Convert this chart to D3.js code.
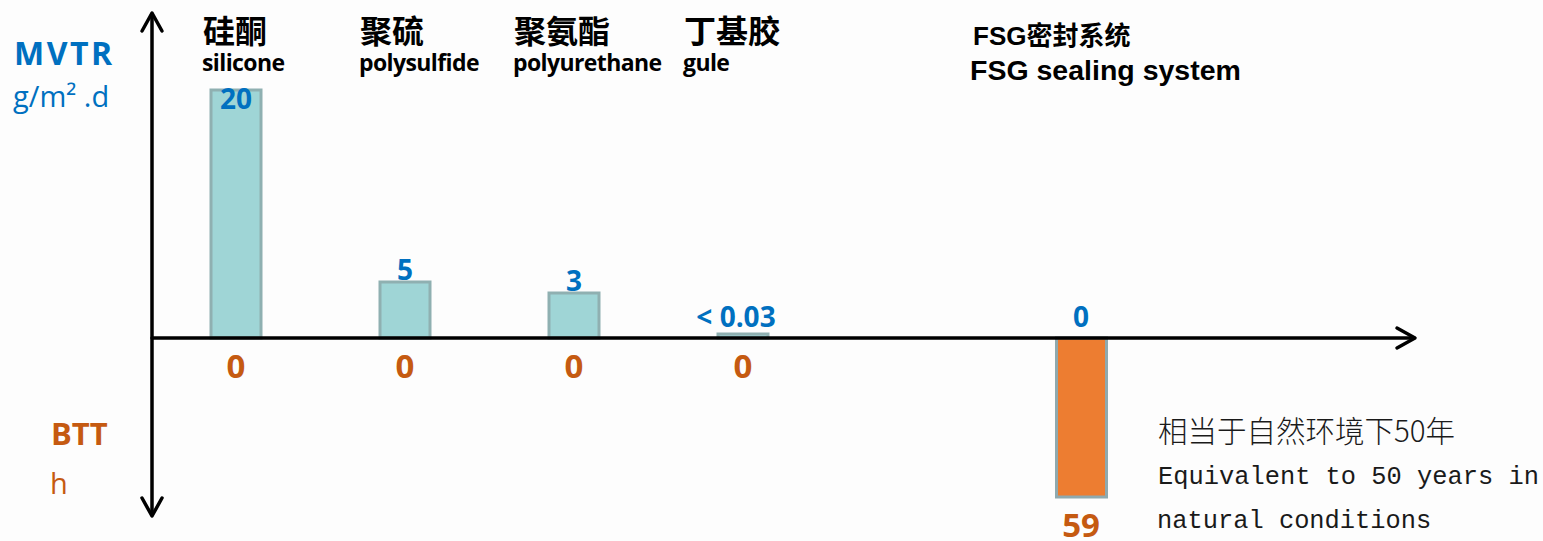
<!DOCTYPE html>
<html>
<head>
<meta charset="utf-8">
<script src="https://cdn.jsdelivr.net/npm/d3@7"></script>
<style>
  html, body { margin: 0; padding: 0; background: #fdfdfd; }
  svg { display: block; }
</style>
</head>
<body>
<svg id="chart" width="1543" height="541"></svg>
<script>
// ---- data ----
const categories = ["silicone", "polysulfide", "polyurethane", "gule", "FSG"];
const namesZh = ["硅酮", "聚硫", "聚氨酯", "丁基胶", "FSG密封系统"];
const namesEn = ["silicone", "polysulfide", "polyurethane", "gule", "FSG sealing system"];
const mvtrValues = [20, 5, 3, 0.03, 0];
const mvtrLabels = ["20", "5", "3", "< 0.03", "0"];
const bttValues = [0, 0, 0, 0, 59];
const bttLabels = ["0", "0", "0", "0", "59"];
const noteLines = ["相当于自然环境下50年", "Equivalent to 50 years in", "natural conditions"];

// ---- layout ----
const W = 1543, H = 541;
const axisX = 152, axisY = 338;
const svg = d3.select("#chart");
svg.append("rect").attr("width", W).attr("height", H).attr("fill", "#fdfdfd");

// x: band scale with an empty slot before the FSG system
const slots = [...categories.slice(0, 4), "__gap", categories[4]];
const x = d3.scaleBand().domain(slots).range([211, 1106])
  .paddingInner(1 - 50 / 169).paddingOuter(0);
const cx = c => x(c) + x.bandwidth() / 2;

// y (up): MVTR, piecewise scale as in the original (not proportional)
const yUp = d3.scaleLinear().domain([0, 0.03, 3, 5, 20]).range([axisY, 334, 293, 282, 90]);
// y (down): BTT hours
const yDown = d3.scaleLinear().domain([0, 59]).range([axisY, 497]);

const mvtr = categories.map((c, i) => ({ c, v: mvtrValues[i], label: mvtrLabels[i] }));
const btt = categories.map((c, i) => ({ c, v: bttValues[i], label: bttLabels[i] }));

// MVTR bars (teal)
svg.append("g").selectAll("rect").data(mvtr.filter(d => d.v > 0)).join("rect")
  .attr("x", d => x(d.c))
  .attr("y", d => yUp(d.v))
  .attr("width", x.bandwidth())
  .attr("height", d => axisY - yUp(d.v))
  .attr("fill", "#9fd5d6")
  .attr("stroke", "#8fb0b1")
  .attr("stroke-width", 3);

// BTT bars (orange)
svg.append("g").selectAll("rect").data(btt.filter(d => d.v > 0)).join("rect")
  .attr("x", d => x(d.c) + 0.5)
  .attr("y", axisY)
  .attr("width", x.bandwidth())
  .attr("height", d => yDown(d.v) - axisY)
  .attr("fill", "#ed7d31")
  .attr("stroke", "#8fa9ae")
  .attr("stroke-width", 3);

// axes with chevron arrowheads
const ax = svg.append("g").attr("stroke", "#000").attr("stroke-width", 3.5)
  .attr("fill", "none").attr("stroke-linecap", "round").attr("stroke-linejoin", "round");
ax.append("line").attr("x1", axisX).attr("y1", 14).attr("x2", axisX).attr("y2", 515);
ax.append("path").attr("d", `M${axisX - 10},31 L${axisX},13 L${axisX + 10},31`);
ax.append("path").attr("d", `M${axisX - 10},498 L${axisX},516 L${axisX + 10},498`);
ax.append("line").attr("x1", axisX).attr("y1", axisY).attr("x2", 1414).attr("y2", axisY);
ax.append("path").attr("d", `M1397,${axisY - 10} L1415,${axisY} L1397,${axisY + 10}`);

// axis titles
const blue = "#0070c0", orange = "#c55a11";
svg.append("text").attr("x", 14).attr("y", 65).text("MVTR")
  .attr("font-family", "'Open Sans', sans-serif").attr("font-weight", 700)
  .attr("font-size", 32).attr("letter-spacing", 2.5).attr("fill", blue);
svg.append("text").attr("x", 13).attr("y", 107).text("g/m² .d")
  .attr("font-family", "'Open Sans', sans-serif").attr("font-size", 29).attr("fill", blue);
svg.append("text").attr("x", 51).attr("y", 445).text("BTT")
  .attr("font-family", "'Open Sans', sans-serif").attr("font-weight", 700)
  .attr("font-size", 31).attr("fill", orange);
svg.append("text").attr("x", 50).attr("y", 494).text("h")
  .attr("font-family", "'Open Sans', sans-serif").attr("font-size", 29).attr("fill", orange);

// category headers
const headerDx = [-8, -20, -35, -34, -83];
const hdr = svg.append("g");
categories.forEach((c, i) => {
  const isFSG = i === 4;
  hdr.append("text")
    .attr("x", cx(c) - x.bandwidth() / 2 + headerDx[i] + (isFSG ? 0 : 0))
    .attr("y", isFSG ? 45 : 43)
    .text(namesZh[i])
    .attr("font-family", isFSG ? "'Liberation Sans', 'Noto Sans CJK SC', sans-serif" : "'Noto Sans CJK SC', sans-serif")
    .attr("font-weight", 700)
    .attr("font-size", isFSG ? 26 : 32)
    .attr("letter-spacing", isFSG ? 0 : 0)
    .attr("fill", "#000");
  hdr.append("text")
    .attr("x", cx(c) - x.bandwidth() / 2 + headerDx[i] - (isFSG ? 3 : 1))
    .attr("y", isFSG ? 80 : 71)
    .text(namesEn[i])
    .attr("font-family", isFSG ? "'Liberation Sans', sans-serif" : "'Open Sans', sans-serif")
    .attr("font-weight", 700)
    .attr("font-size", isFSG ? 28.5 : 23)
    .attr("letter-spacing", isFSG ? 0 : -0.6)
    .attr("fill", "#000");
});

// MVTR value labels
svg.append("g").selectAll("text").data(mvtr).join("text")
  .attr("x", d => cx(d.c) - (d.v > 0 && d.v < 1 ? 7 : 0))
  .attr("y", d => Math.min(Math.max(yUp(d.v) - 2, 109), 327))
  .attr("text-anchor", "middle")
  .text(d => d.label)
  .attr("font-family", "'Open Sans', sans-serif").attr("font-weight", 700)
  .attr("font-size", 28).attr("fill", blue);

// BTT value labels
svg.append("g").selectAll("text").data(btt).join("text")
  .attr("x", d => cx(d.c))
  .attr("y", d => yDown(d.v) + 40)
  .attr("text-anchor", "middle")
  .text(d => d.label)
  .attr("font-family", "'Open Sans', sans-serif").attr("font-weight", 700)
  .attr("font-size", 33).attr("fill", orange);

// note
const note = svg.append("g").attr("fill", "#1a1a1a");
note.append("text").attr("x", 1158).attr("y", 442).text(noteLines[0])
  .attr("font-family", "'Noto Sans CJK SC', sans-serif").attr("font-weight", 300)
  .attr("font-size", 29.5);
note.append("text").attr("x", 1158).attr("y", 484).text(noteLines[1])
  .attr("font-family", "'Liberation Mono', monospace").attr("font-size", 25.4);
note.append("text").attr("x", 1157).attr("y", 528).text(noteLines[2])
  .attr("font-family", "'Liberation Mono', monospace").attr("font-size", 25.4);
</script>
</body>
</html>
